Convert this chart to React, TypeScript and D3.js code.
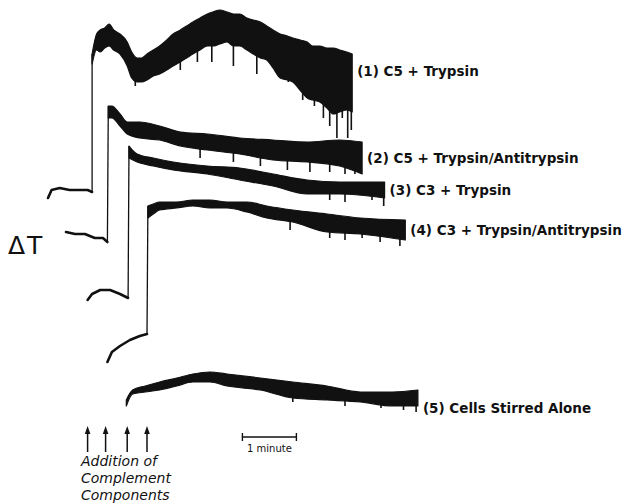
import { useEffect, useRef } from 'react'
import * as d3 from 'd3'

// time in seconds, ΔT in arbitrary chart units
const trace1Base = [[0, 108], [4, 112], [13, 113], [24, 112], [36, 112], [44, 112], [49, 111]]
const trace1Band = [
  [49, 180, 175], [54, 190, 182], [58, 192, 181], [63, 193, 183], [68, 195, 184], [73, 192, 182],
  [80, 190, 180], [88, 186, 174], [93, 181, 168], [99, 178, 166], [104, 178, 166], [110, 180, 167],
  [117, 182, 169], [124, 184, 170], [132, 187, 172], [139, 190, 174], [147, 192, 176], [154, 194, 178],
  [161, 196, 180], [169, 198, 182], [177, 200, 184], [183, 201, 184], [191, 202, 185], [199, 201, 186],
  [206, 200, 184], [213, 200, 184], [221, 198, 182], [228, 197, 180], [236, 196, 178], [243, 194, 177],
  [250, 192, 173], [258, 190, 168], [266, 189, 167], [272, 188, 166], [280, 187, 162], [288, 186, 158],
  [294, 184, 157], [302, 184, 156], [310, 183, 153], [317, 183, 150], [324, 182, 151], [332, 181, 152],
  [338, 180, 151],
]
const trace1Spikes = [
  [97, 164], [147, 172], [166, 176], [182, 176], [206, 174], [232, 170], [253, 171], [267, 166],
  [283, 157], [296, 154], [306, 148], [313, 144], [321, 138], [327, 148], [333, 138], [337, 142],
]

const trace2Base = [[20, 91], [30, 90], [41, 90], [52, 88], [61, 88], [66, 86]]
const trace2Band = [
  [67, 154, 148], [71, 154, 148], [80, 150, 144], [88, 146, 140], [102, 146, 138], [124, 144, 137],
  [147, 141, 134], [177, 140, 132], [213, 138, 130], [250, 137, 127], [288, 136, 126], [324, 137, 124],
  [349, 136, 120],
]
const trace2Spikes = [[169, 128], [206, 126], [236, 124], [266, 122], [291, 121], [313, 121], [330, 120], [341, 120]]

const trace3Base = [[44, 57], [49, 60], [58, 62], [69, 62], [80, 60], [89, 58]]
const trace3Band = [
  [90, 134, 128], [99, 130, 126], [117, 128, 124], [139, 126, 122], [177, 124, 120], [213, 123, 117],
  [250, 120, 114], [288, 117, 110], [324, 116, 110], [374, 116, 108],
]
const trace3Spikes = [[313, 107], [330, 106], [360, 107], [373, 104]]

const trace4Base = [[66, 26], [71, 31], [80, 34], [91, 37], [102, 39], [110, 40]]
const trace4Band = [
  [111, 104, 98], [117, 105, 100], [124, 106, 102], [143, 106, 103], [161, 107, 104], [180, 107, 103],
  [199, 106, 103], [221, 106, 101], [243, 104, 98], [272, 102, 96], [310, 100, 91], [347, 98, 90],
  [397, 97, 87],
]
const trace4Spikes = [[269, 92], [313, 88], [330, 87], [349, 88], [369, 86], [391, 84]]

const trace5Band = [
  [87, 7, 4], [94, 12, 10], [108, 14, 11], [124, 16, 12], [143, 18, 14], [161, 20, 16], [180, 21, 16],
  [199, 20, 14], [236, 18, 12], [272, 16, 8], [310, 14, 7], [347, 11, 6], [383, 11, 4], [411, 12, 4],
]
const trace5Spikes = [[272, 6], [330, 4], [370, 3], [395, 2], [409, 1]]

const traceLabels = [
  '(1) C5 + Trypsin',
  '(2) C5 + Trypsin/Antitrypsin',
  '(3) C3 + Trypsin',
  '(4) C3 + Trypsin/Antitrypsin',
  '(5) Cells Stirred Alone',
]
const labelLevels = [169, 125.5, 109.5, 89.5, 0.5]

const additionTimes = [44, 64, 88, 110]
const scaleBarStart = 216
const scaleBarLength = 60

const FONT = '"DejaVu Sans", sans-serif'

export default function App() {
  const ref = useRef<SVGSVGElement>(null)

  useEffect(() => {
    if (!ref.current) return
    const svg = d3.select(ref.current)
    svg.selectAll('*').remove()

    const width = 624
    const height = 504
    svg.attr('viewBox', `0 0 ${width} ${height}`).attr('width', width).attr('height', height)

    svg.append('rect').attr('width', width).attr('height', height).attr('fill', '#fff')

    const x = d3.scaleLinear().domain([0, 420]).range([48, 426])
    const y = d3.scaleLinear().domain([0, 200]).range([414, 14])

    const traces = [
      { base: trace1Base, band: trace1Band, spikes: trace1Spikes },
      { base: trace2Base, band: trace2Band, spikes: trace2Spikes },
      { base: trace3Base, band: trace3Band, spikes: trace3Spikes },
      { base: trace4Base, band: trace4Band, spikes: trace4Spikes },
      { base: null, band: trace5Band, spikes: trace5Spikes },
    ]

    const line = d3.line<number[]>().x(d => x(d[0])).y(d => y(d[1])).curve(d3.curveLinear)
    const area = d3.area<number[]>()
      .x(d => x(d[0]))
      .y0(d => y(d[2]))
      .y1(d => y(d[1]))
      .curve(d3.curveMonotoneX)

    const g = svg.append('g')

    traces.forEach((tr, i) => {
      // pre-addition baseline
      if (tr.base) {
        g.append('path')
          .attr('d', line(tr.base))
          .attr('fill', 'none')
          .attr('stroke', '#111')
          .attr('stroke-width', 2.6)
          .attr('stroke-linejoin', 'round')
          .attr('stroke-linecap', 'round')

        // step at complement addition
        const last = tr.base[tr.base.length - 1]
        const first = tr.band[0]
        g.append('line')
          .attr('x1', x(last[0])).attr('x2', x(first[0]))
          .attr('y1', y(last[1])).attr('y2', y(first[1]))
          .attr('stroke', '#111')
          .attr('stroke-width', 1.3)
      }

      // noisy response band
      g.append('path')
        .attr('d', area(tr.band))
        .attr('fill', '#111')
        .attr('stroke', '#111')
        .attr('stroke-width', 1.2)
        .attr('stroke-linejoin', 'round')

      // downward noise spikes
      const lo = d3.scaleLinear()
        .domain(tr.band.map(d => d[0]))
        .range(tr.band.map(d => d[2]))
      g.selectAll(null)
        .data(tr.spikes)
        .join('line')
        .attr('x1', d => x(d[0])).attr('x2', d => x(d[0]))
        .attr('y1', d => y(lo(d[0])) - 1).attr('y2', d => y(d[1]))
        .attr('stroke', '#111')
        .attr('stroke-width', 1.6)

      // trace label
      const end = tr.band[tr.band.length - 1]
      g.append('text')
        .attr('x', x(end[0]) + 5)
        .attr('y', y(labelLevels[i]))
        .attr('font-family', FONT)
        .attr('font-size', '13.5px')
        .attr('font-weight', 'bold')
        .attr('fill', '#111')
        .text(traceLabels[i])
    })

    // ΔT axis label
    svg.append('text')
      .attr('x', 8).attr('y', 254)
      .attr('font-family', FONT)
      .attr('font-size', '25px')
      .attr('letter-spacing', '2px')
      .attr('fill', '#111')
      .text('ΔT')

    // addition arrows
    const arrows = svg.append('g')
    additionTimes.forEach(t => {
      const ax = x(t)
      arrows.append('line')
        .attr('x1', ax).attr('x2', ax)
        .attr('y1', 432).attr('y2', 452)
        .attr('stroke', '#111').attr('stroke-width', 1.5)
      arrows.append('path')
        .attr('d', `M${ax},426 L${ax - 2.8},434 L${ax + 2.8},434 Z`)
        .attr('fill', '#111')
    })

    const caption = svg.append('text')
      .attr('font-family', FONT)
      .attr('font-size', '14px')
      .attr('font-style', 'italic')
      .attr('fill', '#111')
    ;['Addition of', 'Complement', 'Components'].forEach((s, i) => {
      caption.append('tspan').attr('x', 81).attr('y', 466 + i * 17).text(s)
    })

    // 1 minute scale bar
    const sb = svg.append('g')
    const sx0 = x(scaleBarStart)
    const sx1 = x(scaleBarStart + scaleBarLength)
    sb.append('line').attr('x1', sx0).attr('x2', sx1).attr('y1', 437).attr('y2', 437)
      .attr('stroke', '#111').attr('stroke-width', 1.4)
    ;[sx0, sx1].forEach(v => {
      sb.append('line').attr('x1', v).attr('x2', v).attr('y1', 433).attr('y2', 441)
        .attr('stroke', '#111').attr('stroke-width', 1.4)
    })
    sb.append('text')
      .attr('x', (sx0 + sx1) / 2).attr('y', 452)
      .attr('text-anchor', 'middle')
      .attr('font-family', FONT)
      .attr('font-size', '10px')
      .attr('fill', '#111')
      .text('1 minute')
  }, [])

  return (
    <div style={{ position: 'absolute', left: 0, top: 0 }}>
      <svg ref={ref} />
    </div>
  )
}
